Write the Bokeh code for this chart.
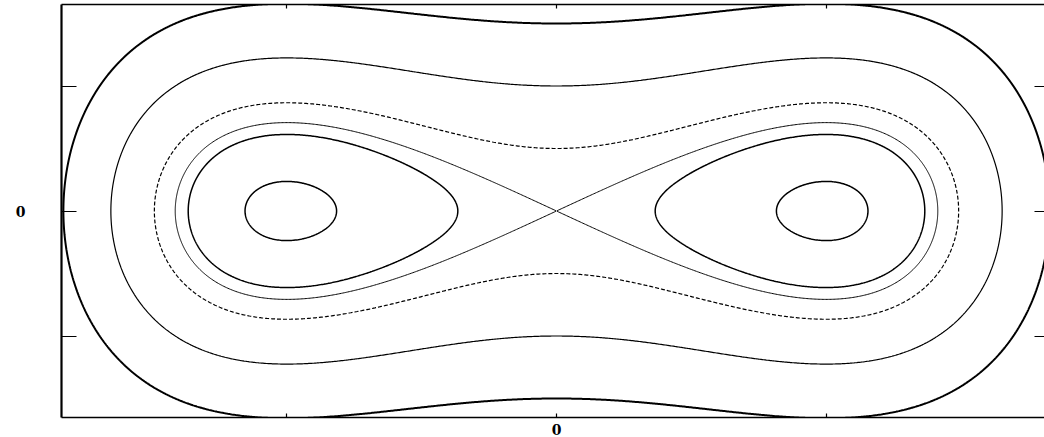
import numpy as np
from bokeh.plotting import figure
from bokeh.plotting.contour import contour_data
from bokeh.models import LinearAxis, FixedTicker, Range1d
from bokeh.embed import file_html
from bokeh.resources import INLINE

# Energy levels of the phase-portrait contours
levels = [-0.222, -0.0625, 0.0, 0.125, 0.5, 1.125]
line_widths = [1.5, 1.5, 1.0, 1.2, 1.2, 2.0]
line_dashes = ["solid", "solid", "solid", "4 2", "solid", "solid"]
x_ticks = [-1, 0, 1]
y_ticks = [-1, 0, 1]
tick_labels = {-1: "", 0: "0", 1: ""}
blank_labels = {-1: "", 0: "", 1: ""}

# Hamiltonian of the double-well oscillator on a grid
xs = np.linspace(-2.0, 2.0, 800)
ys = np.linspace(-1.8, 1.8, 720)
X, Y = np.meshgrid(xs, ys)
H = 0.5 * Y**2 - 0.5 * X**2 + 0.25 * X**4

p = figure(width=1044, height=437, output_backend="svg", toolbar_location=None,
           x_range=Range1d(-1.836, 1.81), y_range=Range1d(-1.652, 1.652),
           min_border_left=61, min_border_right=0, min_border_top=4, min_border_bottom=0,
           x_axis_location=None, y_axis_location=None)
p.grid.visible = False
p.outline_line_color = None
p.background_fill_color = "white"
p.border_fill_color = "white"

for lvl, lw, ld in zip(levels, line_widths, line_dashes):
    cd = contour_data(xs, ys, H, [lvl], want_fill=False, want_line=True)
    ld_data = cd.line_data
    p.multi_line(xs=list(ld_data.xs), ys=list(ld_data.ys), line_color="black",
                 line_width=lw, line_dash=ld)

def make_axis(loc, ticks, tick_in, show_label, line_w):
    ax = LinearAxis(ticker=FixedTicker(ticks=ticks))
    ax.major_tick_in = tick_in
    ax.major_tick_out = 0
    ax.minor_tick_in = 0
    ax.minor_tick_out = 0
    ax.major_tick_line_color = "black"
    ax.major_tick_line_width = 1.2
    ax.axis_line_color = "black" if line_w else None
    ax.axis_line_width = line_w if line_w else 1
    ax.major_label_text_font = "DejaVu Serif"
    ax.major_label_text_font_style = "bold"
    ax.major_label_text_font_size = "14px"
    ax.major_label_text_color = "black"
    if show_label:
        ax.major_label_overrides = tick_labels
    else:
        ax.major_label_overrides = blank_labels
        ax.major_label_standoff = 0
    p.add_layout(ax, loc)
    return ax

left = make_axis("left", y_ticks, 15, True, 2.2)
left.major_label_standoff = 36
left.major_label_orientation = "horizontal"
bottom = make_axis("below", x_ticks, 4, True, 1.5)
bottom.major_label_standoff = 6
make_axis("right", y_ticks, 10, False, 0)
make_axis("above", x_ticks, 4, False, 1.3)

open("out.html", "w").write(file_html(p, INLINE))
